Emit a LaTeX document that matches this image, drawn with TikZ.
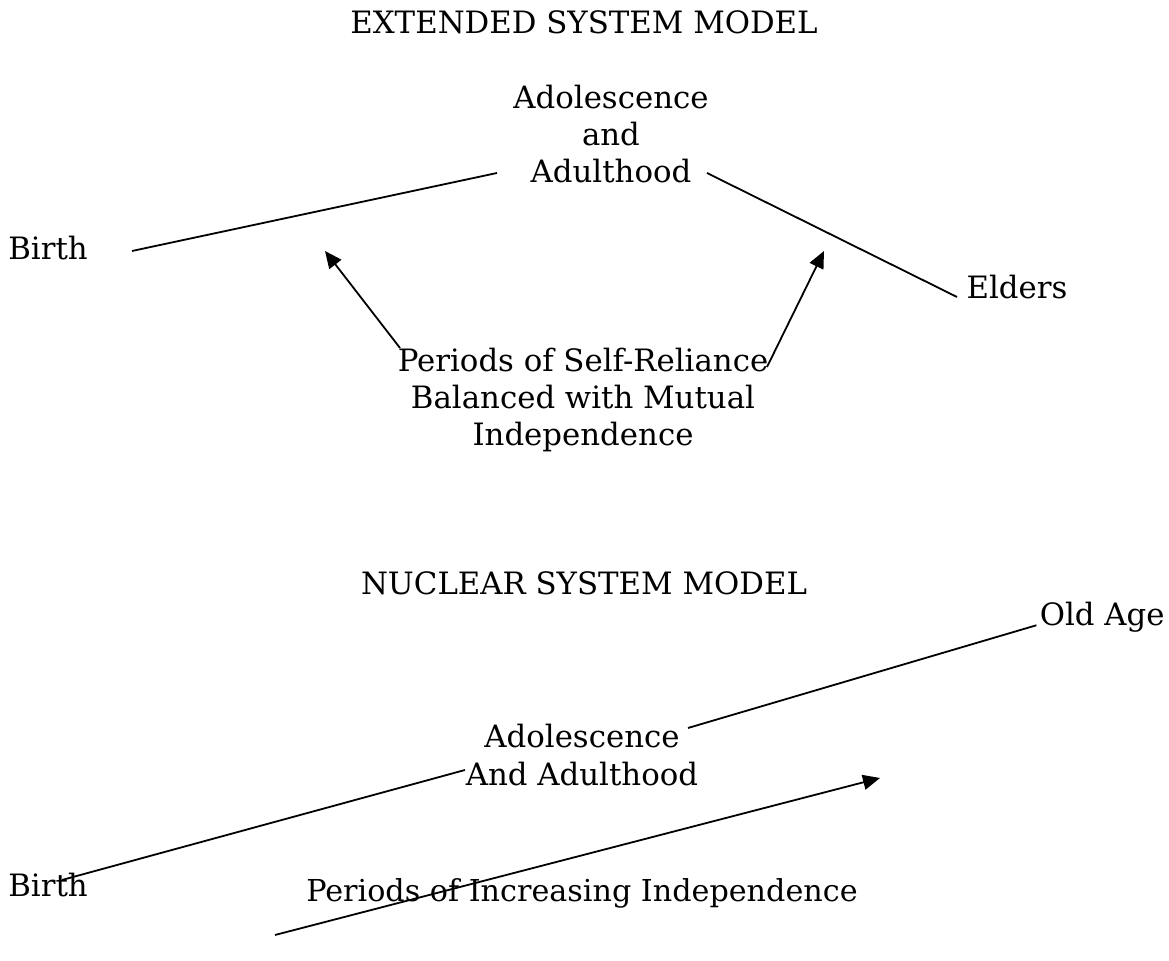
\documentclass[tikz,border=0pt]{standalone}
\usepackage{fontspec}
\setmainfont{DejaVu Serif}
\usepackage{tikz}
\usetikzlibrary{%
  arrows.meta%
}

\begin{document}
\begin{tikzpicture}[x=0.5pt,y=-0.5pt,
    lbl/.style={inner sep=0pt,font=\fontsize{15.4}{18.7}\selectfont,align=center},
    ln/.style={black,line width=0.9pt},
    arr/.style={ln,-{Triangle[length=8.5pt,width=7.5pt]}}]

    \useasboundingbox (0,0) rectangle (1169,961);

    %%%%%%%%%%%%%%%%
    %% extended system model
    \node[lbl] (titleE) at (584,22) {EXTENDED SYSTEM MODEL};
    \node[lbl] (adultE) at (611,134) {Adolescence\\and\\Adulthood};
    \node[lbl] (birthE) at (48,248) {Birth};
    \node[lbl] (eldersE) at (1017,287) {Elders};
    \node[lbl] (periodsE) at (583,400) {Periods of Self-Reliance\\Balanced with Mutual\\Independence};

    %% line ends
    \coordinate (birthEr) at (132,251);
    \coordinate (adultEl) at (497,173);
    \coordinate (adultEr) at (707,173);
    \coordinate (eldersEl) at (957,297);
    \coordinate (periodsEl) at (400,348);
    \coordinate (periodsEr) at (767,367);
    \coordinate (tipEl) at (325,251);
    \coordinate (tipEr) at (824,251);

    \draw[ln] (birthEr) -- (adultEl);
    \draw[ln] (adultEr) -- (eldersEl);

    %% arrows
    \draw[arr] (periodsEl) -- (tipEl);
    \draw[arr] (periodsEr) -- (tipEr);

    %%%%%%%%%%%%%%%%
    %% nuclear system model
    \node[lbl] (titleN) at (584,583) {NUCLEAR SYSTEM MODEL};
    \node[lbl,anchor=east] (oldN) at (1165,617) {Old Age};
    \node[lbl] (adultN) at (582,755) {Adolescence\\And Adulthood};
    \node[lbl] (birthN) at (48,885) {Birth};
    \node[lbl,font=\fontsize{15.1}{18.7}\selectfont] (periodsN) at (582,893) {Periods of Increasing Independence};

    %% line ends
    \coordinate (oldNl) at ([xshift=-1.5pt]oldN.base west);
    \coordinate (adultNr) at (688,728);
    \coordinate (adultNl) at (465,770);
    \coordinate (birthNr) at (62,880);
    \coordinate (startN) at (275,935);
    \coordinate (tipN) at (880,778);

    \draw[ln] (oldNl) -- (adultNr);
    \draw[ln] (adultNl) -- (birthNr);
    \draw[arr] (startN) -- (tipN);

  \end{tikzpicture}
\end{document}
